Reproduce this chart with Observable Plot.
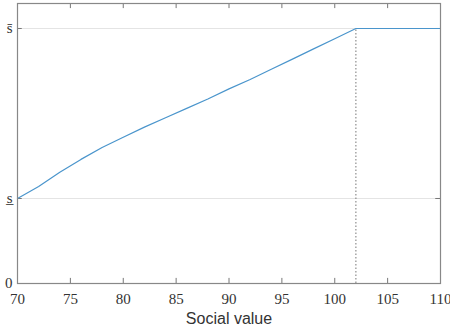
<!DOCTYPE html>
<html><head><meta charset="utf-8">
<script src="https://cdn.jsdelivr.net/npm/d3@7"></script>
<script src="https://cdn.jsdelivr.net/npm/@observablehq/plot@0.6"></script>
<style>body{margin:0;background:#fff}</style>
</head><body><div id="chart"></div>
<script>
const socialValue = [70,72,74,76,78,80,82,84,86,88,90,92,94,96,98,100,102,104,106,108,110];
const lineValue   = [1.0,1.14,1.31,1.46,1.60,1.72,1.84,1.95,2.06,2.17,2.29,2.40,2.52,2.64,2.76,2.88,3.0,3.0,3.0,3.0,3.0];
const xTicks = [70,75,80,85,90,95,100,105,110];
const yTicks = [0,1,3];
const yTickLabels = ["0","s\u0332","s\u0304"];
const thresholdX = 102;
const xLabel = "Social value";
const yMax = 3.294;

const data = socialValue.map((x,i)=>({x, y: lineValue[i]}));
const serif = "Liberation Serif";

const plot = Plot.plot({
  width: 450, height: 327,
  marginLeft: 17, marginRight: 10, marginTop: 3, marginBottom: 44,
  x: {domain: [70,110]},
  y: {domain: [0, yMax]},
  style: {fontSize: "14px", color: "#333", background: "#fff", overflow: "visible"},
  marks: [
    Plot.ruleY([1,3], {stroke: "#e4e4e4", strokeWidth: 1}),
    Plot.ruleX([thresholdX], {y1: 0, y2: 3, stroke: "#777", strokeDasharray: "1.5,2", strokeWidth: 1}),
    Plot.ruleX(xTicks, {y1: 0, y2: 0.06, stroke: "#777"}),
    Plot.ruleX(xTicks, {y1: yMax - 0.06, y2: yMax, stroke: "#777"}),
    Plot.ruleY(yTicks, {x1: 70, x2: 70.45, stroke: "#777"}),
    Plot.ruleY(yTicks, {x1: 109.55, x2: 110, stroke: "#777"}),
    Plot.line(data, {x: "x", y: "y", stroke: "#4a95cc", strokeWidth: 1.2}),
    Plot.frame({stroke: "#888", strokeWidth: 1.2}),
    Plot.axisX(xTicks, {tickSize: 0, tickPadding: 10, tickFormat: d => String(d), fill: "#333", label: null, fontFamily: serif, fontSize: 15}),
    Plot.axisY(yTicks, {tickSize: 0, tickPadding: 5, tickFormat: d => yTickLabels[yTicks.indexOf(d)], fill: "#333", label: null, fontFamily: serif, fontSize: 15}),
    Plot.text([xLabel], {frameAnchor: "bottom", dy: 40, fontFamily: "Liberation Sans", fontSize: 16, fill: "#333"})
  ]
});
document.getElementById("chart").appendChild(plot);
</script>
</body></html>
